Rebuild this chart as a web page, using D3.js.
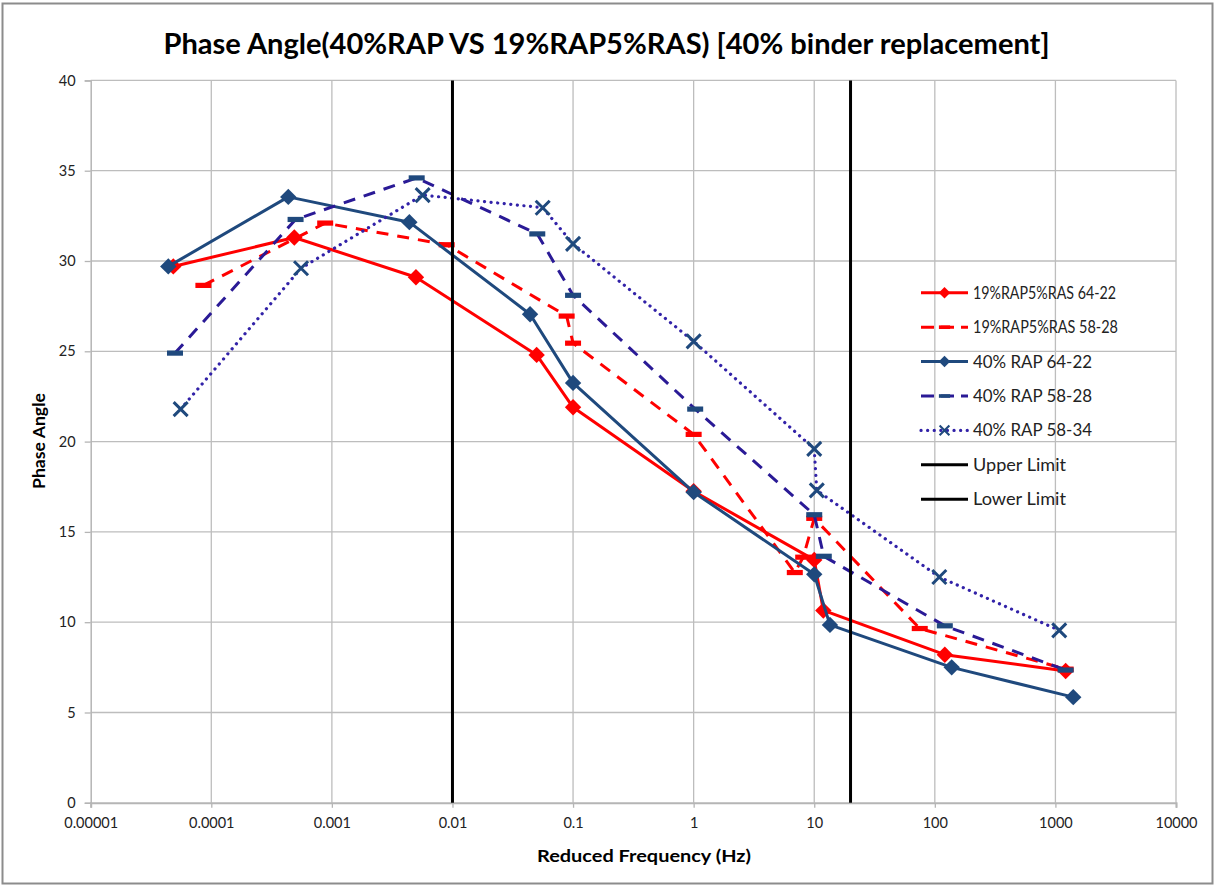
<!DOCTYPE html>
<html>
<head>
<meta charset="utf-8">
<script src="https://cdn.jsdelivr.net/npm/d3@7"></script>
<style>
  html, body { margin: 0; padding: 0; background: #fff; }
  svg { display: block; }
</style>
</head>
<body>
<svg id="chart" width="1215" height="886"></svg>
<script>
// Reduced frequency (Hz) and phase angle (deg) for each mix
const freqRap19_6422 = [4.84e-5, 4.88e-4, 4.98e-3, 0.0499, 0.1, 1, 10, 11.9, 121, 1216];
const phaseRap19_6422 = [29.7, 31.3, 29.1, 24.8, 21.9, 17.25, 13.45, 10.65, 8.2, 7.3];

const freqRap19_5828 = [8.6e-5, 8.8e-4, 8.95e-3, 0.0885, 0.1, 1, 6.9, 8.1, 10, 75, 1216];
const phaseRap19_5828 = [28.65, 32.1, 30.9, 26.95, 25.45, 20.4, 12.75, 13.6, 15.75, 9.65, 7.4];

const freqRap40_6422 = [4.4e-5, 4.35e-4, 4.39e-3, 0.044, 0.1, 1, 10, 13.5, 138, 1406];
const phaseRap40_6422 = [29.7, 33.55, 32.15, 27.05, 23.25, 17.2, 12.65, 9.85, 7.5, 5.85];

const freqRap40_5828 = [5.0e-5, 5.0e-4, 5.05e-3, 0.0505, 0.1, 1.03, 10, 12.0, 121, 1216];
const phaseRap40_5828 = [24.9, 32.3, 34.6, 31.5, 28.1, 21.8, 15.95, 13.65, 9.8, 7.35];

const freqRap40_5834 = [5.57e-5, 5.55e-4, 5.66e-3, 0.056, 0.1, 1, 10, 10.5, 109, 1076];
const phaseRap40_5834 = [21.8, 29.6, 33.65, 32.95, 30.95, 25.55, 19.6, 17.3, 12.5, 9.55];

// Frequency limits (Hz)
const upperLimit = 0.01;
const lowerLimit = 20;

const xTicks = [1e-5, 1e-4, 1e-3, 1e-2, 1e-1, 1, 10, 100, 1000, 10000];
const xTickLabels = ["0.00001", "0.0001", "0.001", "0.01", "0.1", "1", "10", "100", "1000", "10000"];
const yTicks = [0, 5, 10, 15, 20, 25, 30, 35, 40];

const RED = "#ff0000";
const NAVY = "#1f497d";
const INDIGO = "#2a1a96";
const VIOLET = "#3222a8";

const series = [
  { name: "19%RAP5%RAS 64-22", f: freqRap19_6422, v: phaseRap19_6422, color: RED, dash: null, marker: "diamond", mcolor: RED, width: 3, labelW: 143 },
  { name: "19%RAP5%RAS 58-28", f: freqRap19_5828, v: phaseRap19_5828, color: RED, dash: "12,9", marker: "bar", mcolor: RED, width: 3, labelW: 145 },
  { name: "40% RAP 64-22", f: freqRap40_6422, v: phaseRap40_6422, color: NAVY, dash: null, marker: "diamond", mcolor: NAVY, width: 3, labelW: 119 },
  { name: "40% RAP 58-28", f: freqRap40_5828, v: phaseRap40_5828, color: INDIGO, dash: "12,9", marker: "bar", mcolor: NAVY, width: 3, labelW: 119 },
  { name: "40% RAP 58-34", f: freqRap40_5834, v: phaseRap40_5834, color: VIOLET, dash: "0.1,6.5", marker: "cross", mcolor: NAVY, width: 3.2, cap: "round", labelW: 119 }
];

const svg = d3.select("#chart");
const W = 1215, H = 886;

// outer frame
svg.append("rect").attr("x", 2.5).attr("y", 3.5).attr("width", W - 5).attr("height", H - 6)
  .attr("fill", "#fff").attr("stroke", "#8c8c8c").attr("stroke-width", 2);

const x = d3.scaleLog().domain([1e-5, 1e4]).range([90.7, 1176]);
const y = d3.scaleLinear().domain([0, 40]).range([802.8, 80.4]);

const FONT = "Lato, 'Open Sans', 'DejaVu Sans', sans-serif";

// title
svg.append("text")
  .attr("x", 606.5).attr("y", 54)
  .attr("text-anchor", "middle")
  .attr("font-family", FONT).attr("font-weight", "bold").attr("font-size", 29)
  .attr("fill", "#000")
  .attr("textLength", 886).attr("lengthAdjust", "spacingAndGlyphs")
  .text("Phase Angle(40%RAP VS 19%RAP5%RAS) [40% binder replacement]");

// gridlines
const grid = svg.append("g").attr("stroke", "#bdbdbd").attr("stroke-width", 1.3);
grid.selectAll("line.h").data(yTicks.filter(d => d > 0)).join("line")
  .attr("x1", x.range()[0]).attr("x2", x.range()[1])
  .attr("y1", d => y(d)).attr("y2", d => y(d));
grid.selectAll("line.v").data(xTicks.slice(1)).join("line")
  .attr("x1", d => x(d)).attr("x2", d => x(d))
  .attr("y1", y(40)).attr("y2", y(0));

// axes
const xAxis = d3.axisBottom(x).tickValues(xTicks)
  .tickFormat((d, i) => xTickLabels[i]).tickSize(5).tickPadding(10);
const gx = svg.append("g").attr("transform", `translate(0,${y(0)})`).call(xAxis);
gx.select(".domain").attr("stroke", "#b5b5b5").attr("stroke-width", 2);
gx.selectAll(".tick line").attr("stroke", "#b5b5b5").attr("stroke-width", 1.3);
gx.selectAll(".tick text").attr("font-family", FONT).attr("font-size", 14.5).attr("fill", "#222");

const yAxis = d3.axisLeft(y).tickValues(yTicks).tickSize(6).tickPadding(9);
const gy = svg.append("g").attr("transform", `translate(${x.range()[0]},0)`).call(yAxis);
gy.select(".domain").attr("stroke", "#b5b5b5").attr("stroke-width", 1.5);
gy.selectAll(".tick line").attr("stroke", "#b5b5b5").attr("stroke-width", 1.3);
gy.selectAll(".tick text").attr("font-family", FONT).attr("font-size", 14.5).attr("fill", "#222");

// axis titles
svg.append("text").attr("x", 644).attr("y", 862).attr("text-anchor", "middle")
  .attr("font-family", FONT).attr("font-weight", "bold").attr("font-size", 17).attr("fill", "#000")
  .attr("textLength", 214).attr("lengthAdjust", "spacingAndGlyphs")
  .text("Reduced Frequency (Hz)");
svg.append("text").attr("transform", "translate(45,441) rotate(-90)").attr("text-anchor", "middle")
  .attr("font-family", FONT).attr("font-weight", "bold").attr("font-size", 17).attr("fill", "#000")
  .attr("textLength", 96).attr("lengthAdjust", "spacingAndGlyphs")
  .text("Phase Angle");

// marker drawing
function drawMarker(g, type, color, cx, cy, scale) {
  const s = scale || 1;
  if (type === "diamond") {
    const r = 8.2 * s;
    g.append("path").attr("d", `M${cx},${cy - r}L${cx + r},${cy}L${cx},${cy + r}L${cx - r},${cy}Z`)
      .attr("fill", color);
  } else if (type === "bar") {
    g.append("rect").attr("x", cx - 8 * s).attr("y", cy - 2.6 * s)
      .attr("width", 16 * s).attr("height", 5.2 * s).attr("fill", color);
  } else if (type === "cross") {
    const r = 7 * s;
    g.append("path").attr("d", `M${cx - r},${cy - r}L${cx + r},${cy + r}M${cx - r},${cy + r}L${cx + r},${cy - r}`)
      .attr("stroke", color).attr("stroke-width", 3 * s).attr("fill", "none");
  }
}

const line = d3.line().x(d => x(d[0])).y(d => y(d[1]));

const plot = svg.append("g");
series.forEach(s => {
  const pts = s.f.map((f, i) => [f, s.v[i]]);
  const g = plot.append("g");
  g.append("path").attr("d", line(pts)).attr("fill", "none")
    .attr("stroke", s.color).attr("stroke-width", s.width)
    .attr("stroke-dasharray", s.dash)
    .attr("stroke-linecap", s.cap || "butt")
    .attr("stroke-linejoin", "round");
  pts.forEach(p => drawMarker(g, s.marker, s.mcolor, x(p[0]), y(p[1]), 1));
});

// frequency limit lines
[upperLimit, lowerLimit].forEach(f => {
  plot.append("line").attr("x1", x(f)).attr("x2", x(f))
    .attr("y1", y(40)).attr("y2", y(0))
    .attr("stroke", "#000").attr("stroke-width", 3);
});

// legend
const legendItems = series.map(s => ({ ...s }))
  .concat([
    { name: "Upper Limit", color: "#000", dash: null, marker: null, width: 3, labelW: 93 },
    { name: "Lower Limit", color: "#000", dash: null, marker: null, width: 3, labelW: 93 }
  ]);
const lg = svg.append("g");
legendItems.forEach((it, i) => {
  const ly = 292.8 + i * 34.4;
  const gi = lg.append("g");
  gi.append("line").attr("x1", 921).attr("x2", 968).attr("y1", ly).attr("y2", ly)
    .attr("stroke", it.color).attr("stroke-width", it.width)
    .attr("stroke-dasharray", it.dash ? (it.marker === "cross" ? "0.1,6.5" : "13,7") : null)
    .attr("stroke-linecap", it.cap || "butt");
  if (it.marker) drawMarker(gi, it.marker, it.mcolor, 944.5, ly, 0.7);
  gi.append("text").attr("x", 973).attr("y", ly + 6)
    .attr("font-family", FONT).attr("font-size", 17).attr("fill", "#222")
    .attr("textLength", it.labelW).attr("lengthAdjust", "spacingAndGlyphs")
    .text(it.name);
});
</script>
</body>
</html>
